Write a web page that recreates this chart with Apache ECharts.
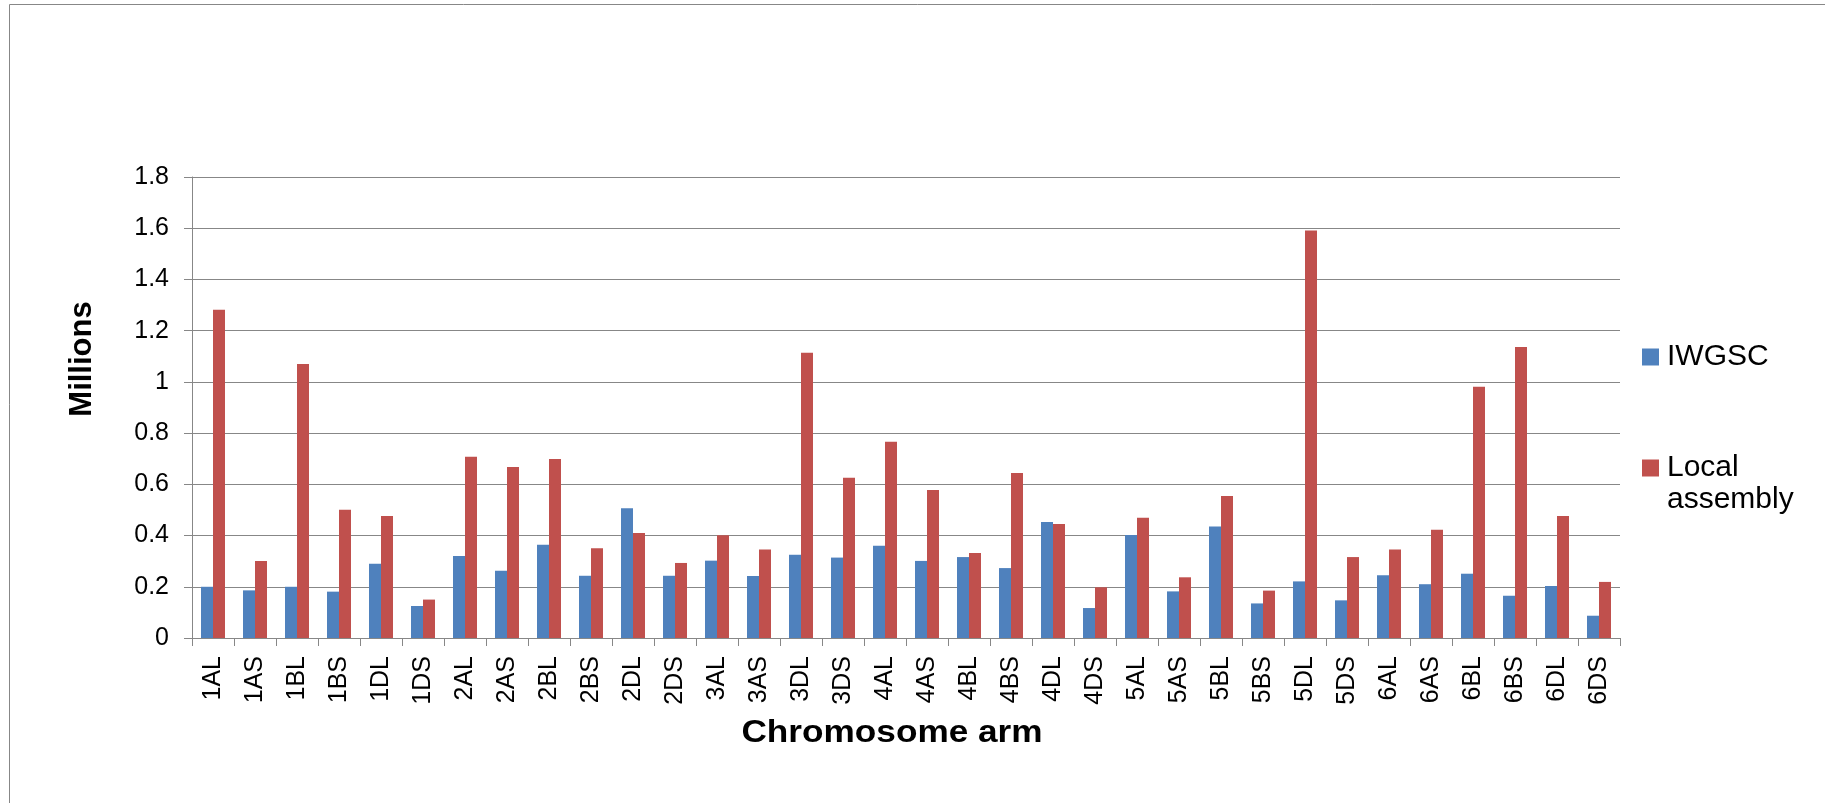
<!DOCTYPE html>
<html>
<head>
<meta charset="utf-8">
<script src="https://cdn.jsdelivr.net/npm/echarts@6/dist/echarts.min.js"></script>
<style>
  html, body { margin: 0; padding: 0; background: #fff; }
  #chart { width: 1825px; height: 803px; }
</style>
</head>
<body>
<div id="chart"></div>
<script>
// Chromosome arms on the category axis
const categories = [
  '1AL','1AS','1BL','1BS','1DL','1DS',
  '2AL','2AS','2BL','2BS','2DL','2DS',
  '3AL','3AS','3DL','3DS',
  '4AL','4AS','4BL','4BS','4DL','4DS',
  '5AL','5AS','5BL','5BS','5DL','5DS',
  '6AL','6AS','6BL','6BS','6DL','6DS'
];

// Values in millions
const iwgsc = [
  0.200, 0.186, 0.200, 0.181, 0.290, 0.125,
  0.320, 0.263, 0.364, 0.243, 0.507, 0.243,
  0.302, 0.242, 0.325, 0.314,
  0.360, 0.301, 0.316, 0.273, 0.453, 0.117,
  0.402, 0.182, 0.435, 0.135, 0.221, 0.147,
  0.245, 0.210, 0.251, 0.165, 0.203, 0.087
];
const localAssembly = [
  1.282, 0.301, 1.070, 0.501, 0.476, 0.150,
  0.708, 0.668, 0.699, 0.350, 0.410, 0.293,
  0.401, 0.346, 1.114, 0.626,
  0.766, 0.578, 0.332, 0.644, 0.445, 0.198,
  0.470, 0.237, 0.554, 0.185, 1.591, 0.316,
  0.346, 0.423, 0.981, 1.136, 0.476, 0.219
];

// Y axis range
const yMin = 0;
const yMax = 1.8;
const yStep = 0.2;

const FONT = '"Liberation Sans", Arial, sans-serif';
const GRAY = '#878787';

const chart = echarts.init(document.getElementById('chart'), null, { renderer: 'canvas' });

chart.setOption({
  backgroundColor: '#ffffff',
  animation: false,
  textStyle: { fontFamily: FONT },
  grid: { left: 192, top: 177, width: 1428, height: 461, containLabel: false },
  legend: [
    {
      data: ['IWGSC'],
      orient: 'vertical',
      left: 1637,
      top: 337,
      itemWidth: 17,
      itemHeight: 17,
      icon: 'rect',
      selectedMode: false,
      textStyle: { fontSize: 30, color: '#000', fontFamily: FONT, padding: [0, 0, 0, 3] }
    },
    {
      data: ['Local assembly'],
      orient: 'vertical',
      left: 1637,
      top: 415,
      itemWidth: 17,
      itemHeight: 17,
      icon: 'rect',
      selectedMode: false,
      // a blank first line keeps the swatch level with "Local"
      formatter: function (name) { return ' \n' + name.replace(' ', '\n'); },
      textStyle: { fontSize: 30, color: '#000', fontFamily: FONT, lineHeight: 32, padding: [0, 0, 0, 3] }
    }
  ],
  xAxis: {
    type: 'category',
    data: categories,
    axisLine: { show: true, lineStyle: { color: GRAY, width: 1 } },
    axisTick: { show: true, length: 8, lineStyle: { color: GRAY, width: 1 } },
    axisLabel: {
      interval: 0,
      rotate: 90,
      margin: 18,
      fontSize: 25,
      color: '#000',
      fontFamily: FONT
    },
    splitLine: { show: false }
  },
  yAxis: {
    type: 'value',
    min: yMin,
    max: yMax,
    interval: yStep,
    axisLine: { show: true, lineStyle: { color: GRAY, width: 1 } },
    axisTick: { show: true, length: 8, lineStyle: { color: GRAY, width: 1 } },
    axisLabel: {
      margin: 23,
      fontSize: 25,
      color: '#000',
      fontFamily: FONT,
      formatter: function (v) { return String(Math.round(v * 10) / 10); }
    },
    splitLine: { show: true, lineStyle: { color: GRAY, width: 1 } }
  },
  series: [
    {
      name: 'IWGSC',
      type: 'bar',
      data: iwgsc,
      barGap: '0%',
      barCategoryGap: '42.857%',
      itemStyle: { color: '#4F81BD' }
    },
    {
      name: 'Local assembly',
      type: 'bar',
      data: localAssembly,
      barGap: '0%',
      barCategoryGap: '42.857%',
      itemStyle: { color: '#C0504D' }
    }
  ],
  graphic: [
    {
      type: 'rect',
      shape: { x: 9.5, y: 4.5, width: 2000, height: 2000 },
      style: { fill: 'none', stroke: GRAY, lineWidth: 1 },
      silent: true,
      z: -1
    },
    {
      type: 'text',
      x: 82,
      y: 359,
      rotation: Math.PI / 2,
      style: {
        text: 'Millions',
        font: 'bold 31px ' + FONT,
        fill: '#000',
        textAlign: 'center',
        textVerticalAlign: 'middle'
      }
    },
    {
      type: 'text',
      x: 892,
      y: 733,
      scaleX: 1.1,
      style: {
        text: 'Chromosome arm',
        font: 'bold 32px ' + FONT,
        fill: '#000',
        textAlign: 'center',
        textVerticalAlign: 'middle'
      }
    }
  ]
});
</script>
</body>
</html>
